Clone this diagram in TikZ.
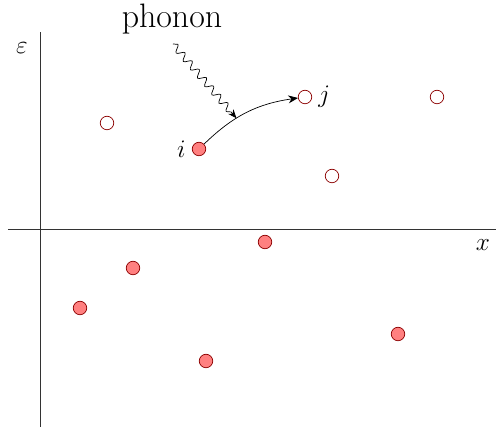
\documentclass[tikz,border=0pt]{standalone}
\usepackage{amsmath,amssymb}
\usetikzlibrary{arrows.meta,decorations.pathmorphing}
\definecolor{elred}{RGB}{255,128,128}
\definecolor{eldark}{RGB}{140,0,0}
\tikzset{
  occ/.style={draw=eldark,circle,fill=elred,inner sep=0pt,minimum size=0.27cm},
  emp/.style={draw=eldark,circle,fill=white,inner sep=0pt,minimum size=0.27cm},
}

\begin{document}
\begin{tikzpicture}[every node/.style={font=\Large}]
    \useasboundingbox (-0.8,-4.0) rectangle (9.12,4.58);
    % axes
    \coordinate (o) at (0,0);
    \coordinate (top) at (0,3.94);
    \coordinate (bot) at (0,-3.96);
    \coordinate (lft) at (-0.64,0);
    \coordinate (rgt) at (9.12,0);
    \draw[gray!40!black](bot)--(top);
    \draw[gray!40!black](lft)--(rgt);
    \node (eps) at (-0.36,3.62){\(\varepsilon\)};
    \node (xl) at (8.86,-0.32){\(x\)};
    % empty states
    \node[emp](e1) at (1.34,2.12){};
    \node[emp, label={[font=\Large]right:\(j\)}](j) at (5.30,2.64){};
    \node[emp](e3) at (5.84,1.06){};
    \node[emp](e4) at (7.94,2.64){};
    % occupied states
    \node[occ, label={[font=\Large]left:\(i\)}](i) at (3.18,1.60){};
    \node[occ](f2) at (4.50,-0.26){};
    \node[occ](f3) at (1.86,-0.78){};
    \node[occ](f4) at (0.80,-1.58){};
    \node[occ](f5) at (3.32,-2.64){};
    \node[occ](f6) at (7.16,-2.10){};
    % hop
    \draw[-{Stealth[length=5.5pt,width=4.5pt]}](i) to[bend left=18] coordinate[pos=0.38](hit) (j);
    % phonon
    \node[font=\fontsize{19.3}{23}\selectfont] (ph) at (2.64,4.20){phonon};
    \coordinate (ps) at (2.66,3.70);
    \draw[-{Stealth[length=5pt,width=4pt]}, decorate,
      decoration={snake,segment length=0.22cm,amplitude=0.07cm,post length=0.12cm}](ps)--(hit);
\end{tikzpicture}
\end{document}
